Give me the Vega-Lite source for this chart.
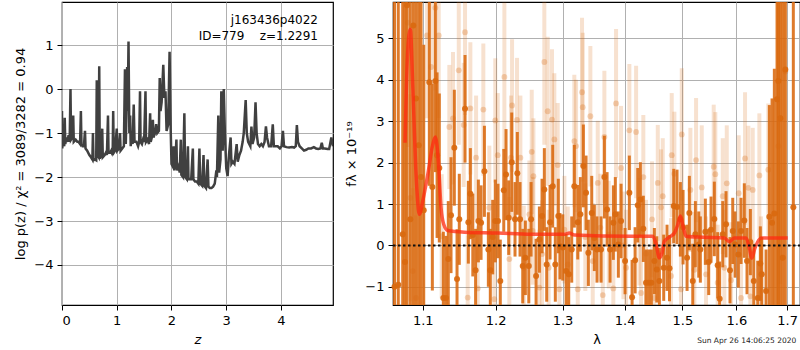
{
  "$schema": "https://vega.github.io/schema/vega-lite/v6.json",
  "padding": {"left": 14, "top": 1, "right": 0, "bottom": 0},
  "spacing": 11,
  "config": {
    "font": "DejaVu Sans",
    "view": {"stroke": "black", "strokeWidth": 1.2},
    "axis": {"grid": true, "gridColor": "#b0b0b0", "gridWidth": 1, "domain": false, "tickColor": "black", "tickSize": 5, "labelFontSize": 13, "labelColor": "black", "titleFontSize": 13, "titleColor": "black", "titleFontWeight": "normal", "labelPadding": 4, "titlePadding": 6}
  },
  "datasets": {
    "pz": [
      {"z":0.00,"lp":-0.50},{"z":0.005,"lp":-1.35},{"z":0.02,"lp":-1.1},{"z":0.04,"lp":-1.3},{"z":0.05,"lp":-0.65},{"z":0.06,"lp":-1.25},{"z":0.08,"lp":-1.1},{"z":0.10,"lp":-1.2},{"z":0.12,"lp":-1.05},{"z":0.14,"lp":-1.2},{"z":0.155,"lp":0.0},{"z":0.165,"lp":-1.15},{"z":0.19,"lp":-1.1},{"z":0.205,"lp":-0.6},{"z":0.215,"lp":-1.2},{"z":0.25,"lp":-1.15},{"z":0.28,"lp":-1.2},{"z":0.30,"lp":-1.2},{"z":0.33,"lp":-1.25},{"z":0.345,"lp":-0.5},{"z":0.355,"lp":-1.25},{"z":0.38,"lp":-1.3},{"z":0.40,"lp":-1.3},{"z":0.42,"lp":-0.95},{"z":0.43,"lp":-1.35},{"z":0.46,"lp":-1.4},{"z":0.50,"lp":-1.5},{"z":0.53,"lp":-1.55},{"z":0.555,"lp":-1.6},{"z":0.565,"lp":-1.0},{"z":0.575,"lp":-1.62},{"z":0.60,"lp":-1.6},{"z":0.625,"lp":-1.62},{"z":0.635,"lp":0.2},{"z":0.645,"lp":-1.5},{"z":0.67,"lp":-1.55},{"z":0.68,"lp":0.52},{"z":0.69,"lp":-1.58},{"z":0.72,"lp":-1.5},{"z":0.735,"lp":-0.9},{"z":0.745,"lp":-1.55},{"z":0.78,"lp":-1.5},{"z":0.80,"lp":-1.45},{"z":0.82,"lp":-1.5},{"z":0.84,"lp":-0.6},{"z":0.85,"lp":-1.45},{"z":0.88,"lp":-1.45},{"z":0.90,"lp":-1.4},{"z":0.925,"lp":-1.5},{"z":0.935,"lp":-0.5},{"z":0.945,"lp":-1.45},{"z":0.97,"lp":-1.4},{"z":1.00,"lp":-0.9},{"z":1.01,"lp":-1.4},{"z":1.04,"lp":-1.35},{"z":1.06,"lp":-1.0},{"z":1.07,"lp":-1.4},{"z":1.10,"lp":-1.35},{"z":1.13,"lp":-1.3},{"z":1.15,"lp":0.45},{"z":1.165,"lp":-1.25},{"z":1.18,"lp":-0.4},{"z":1.19,"lp":0.5},{"z":1.20,"lp":-0.5},{"z":1.215,"lp":1.08},{"z":1.23,"lp":-1.0},{"z":1.245,"lp":-0.6},{"z":1.255,"lp":-1.3},{"z":1.27,"lp":-1.0},{"z":1.29,"lp":-1.25},{"z":1.31,"lp":-0.35},{"z":1.325,"lp":-1.2},{"z":1.36,"lp":-1.2},{"z":1.39,"lp":-1.3},{"z":1.41,"lp":-1.2},{"z":1.425,"lp":-0.05},{"z":1.435,"lp":-1.2},{"z":1.46,"lp":-1.25},{"z":1.48,"lp":-1.15},{"z":1.50,"lp":-1.2},{"z":1.525,"lp":-0.05},{"z":1.535,"lp":-1.2},{"z":1.56,"lp":-1.15},{"z":1.59,"lp":-1.25},{"z":1.61,"lp":-0.55},{"z":1.62,"lp":-1.2},{"z":1.64,"lp":-1.1},{"z":1.66,"lp":-0.7},{"z":1.67,"lp":-1.1},{"z":1.70,"lp":-1.0},{"z":1.72,"lp":-0.8},{"z":1.74,"lp":-1.0},{"z":1.77,"lp":-0.95},{"z":1.785,"lp":0.25},{"z":1.80,"lp":-0.5},{"z":1.82,"lp":-0.3},{"z":1.85,"lp":0.55},{"z":1.87,"lp":-0.2},{"z":1.89,"lp":-0.05},{"z":1.91,"lp":-0.95},{"z":1.94,"lp":-0.8},{"z":1.965,"lp":0.85},{"z":1.985,"lp":-0.9},{"z":2.00,"lp":-1.7},{"z":2.02,"lp":-1.75},{"z":2.04,"lp":-1.3},{"z":2.05,"lp":-1.85},{"z":2.07,"lp":-1.6},{"z":2.09,"lp":-1.15},{"z":2.10,"lp":-1.85},{"z":2.13,"lp":-1.75},{"z":2.15,"lp":-1.9},{"z":2.17,"lp":-1.15},{"z":2.18,"lp":-1.95},{"z":2.21,"lp":-2.0},{"z":2.235,"lp":-0.55},{"z":2.25,"lp":-2.0},{"z":2.28,"lp":-2.05},{"z":2.30,"lp":-1.3},{"z":2.31,"lp":-2.05},{"z":2.34,"lp":-2.05},{"z":2.36,"lp":-2.05},{"z":2.39,"lp":-1.35},{"z":2.40,"lp":-2.05},{"z":2.43,"lp":-2.1},{"z":2.46,"lp":-2.1},{"z":2.49,"lp":-2.15},{"z":2.51,"lp":-1.35},{"z":2.525,"lp":-2.15},{"z":2.56,"lp":-2.2},{"z":2.585,"lp":-1.5},{"z":2.60,"lp":-2.2},{"z":2.63,"lp":-2.25},{"z":2.66,"lp":-1.6},{"z":2.675,"lp":-2.22},{"z":2.70,"lp":-2.25},{"z":2.73,"lp":-2.25},{"z":2.76,"lp":-2.22},{"z":2.79,"lp":-2.15},{"z":2.82,"lp":-1.85},{"z":2.83,"lp":-2.0},{"z":2.855,"lp":-0.6},{"z":2.87,"lp":-1.9},{"z":2.895,"lp":-1.6},{"z":2.91,"lp":-0.05},{"z":2.935,"lp":-1.4},{"z":2.955,"lp":0.0},{"z":2.975,"lp":-1.0},{"z":3.00,"lp":-1.8},{"z":3.025,"lp":-1.98},{"z":3.05,"lp":-1.5},{"z":3.08,"lp":-1.1},{"z":3.095,"lp":-1.7},{"z":3.12,"lp":-1.65},{"z":3.15,"lp":-1.7},{"z":3.19,"lp":-1.25},{"z":3.21,"lp":-1.65},{"z":3.24,"lp":-1.5},{"z":3.27,"lp":-1.4},{"z":3.30,"lp":-1.2},{"z":3.32,"lp":-1.0},{"z":3.355,"lp":-0.25},{"z":3.375,"lp":-1.0},{"z":3.40,"lp":-1.2},{"z":3.44,"lp":-1.3},{"z":3.46,"lp":-0.85},{"z":3.48,"lp":-1.25},{"z":3.51,"lp":-1.1},{"z":3.535,"lp":-0.3},{"z":3.555,"lp":-1.0},{"z":3.58,"lp":-1.25},{"z":3.61,"lp":-1.3},{"z":3.64,"lp":-1.25},{"z":3.67,"lp":-1.3},{"z":3.70,"lp":-1.2},{"z":3.725,"lp":-0.85},{"z":3.745,"lp":-1.1},{"z":3.78,"lp":-1.3},{"z":3.82,"lp":-1.3},{"z":3.85,"lp":-0.8},{"z":3.87,"lp":-1.3},{"z":3.90,"lp":-1.3},{"z":3.94,"lp":-1.3},{"z":3.98,"lp":-1.35},{"z":4.01,"lp":-1.3},{"z":4.035,"lp":-0.95},{"z":4.055,"lp":-1.3},{"z":4.10,"lp":-1.32},{"z":4.15,"lp":-1.33},{"z":4.20,"lp":-1.32},{"z":4.24,"lp":-1.33},{"z":4.27,"lp":-1.3},{"z":4.29,"lp":-0.82},{"z":4.31,"lp":-1.2},{"z":4.34,"lp":-1.3},{"z":4.38,"lp":-1.35},{"z":4.42,"lp":-1.4},{"z":4.46,"lp":-1.38},{"z":4.50,"lp":-1.35},{"z":4.55,"lp":-1.35},{"z":4.60,"lp":-1.32},{"z":4.64,"lp":-1.35},{"z":4.68,"lp":-1.36},{"z":4.72,"lp":-1.35},{"z":4.745,"lp":-1.22},{"z":4.765,"lp":-1.35},{"z":4.80,"lp":-1.35},{"z":4.85,"lp":-1.36},{"z":4.88,"lp":-1.36},{"z":4.92,"lp":-1.1},{"z":4.95,"lp":-1.3}
    ],
    "a": [
      {"l":1.0635,"f":-1.0,"e":10},{"l":1.0683,"f":-0.95,"e":10},{"l":1.0740,"f":0.27,"e":10},{"l":1.0769,"f":-0.4,"e":10},{"l":1.0795,"f":5.8,"e":10},{"l":1.0838,"f":0.63,"e":10},{"l":1.0877,"f":5.31,"e":10},{"l":1.0912,"f":3.55,"e":10},{"l":1.0947,"f":2.42,"e":6},{"l":1.0978,"f":1.65,"e":5},{"l":1.1013,"f":0.85,"e":4},{"l":1.1087,"f":3.94,"e":2.5},{"l":1.1127,"f":1.41,"e":2.5},{"l":1.1167,"f":3.97,"e":2.2},{"l":1.1190,"f":2.18,"e":2.0},{"l":1.1220,"f":1.87,"e":1.8},{"l":1.1274,"f":-1.27,"e":1.6},{"l":1.1310,"f":-1.27,"e":1.5},{"l":1.1341,"f":-0.33,"e":1.4},{"l":1.1378,"f":0.73,"e":1.4},{"l":1.1423,"f":2.36,"e":1.4},{"l":1.1460,"f":-0.81,"e":1.2},{"l":1.1491,"f":0.63,"e":1.1},{"l":1.1570,"f":3.3,"e":1.3},{"l":1.1616,"f":0.56,"e":1.0},{"l":1.1644,"f":1.25,"e":1.1},{"l":1.1678,"f":0.25,"e":1.0},{"l":1.1717,"f":-0.6,"e":1.0},{"l":1.1756,"f":0.59,"e":1.0},{"l":1.1794,"f":0.55,"e":0.9},{"l":1.1841,"f":1.79,"e":1.1},{"l":1.1897,"f":-0.1,"e":0.9},{"l":1.1925,"f":-0.6,"e":1.0},{"l":1.1959,"f":0.2,"e":0.9},{"l":1.1996,"f":0.59,"e":1.0},{"l":1.2035,"f":0.59,"e":0.9},{"l":1.2068,"f":-0.86,"e":1.0},{"l":1.2118,"f":1.33,"e":1.0},{"l":1.2151,"f":1.71,"e":1.1},{"l":1.2190,"f":0.67,"e":0.9},{"l":1.2234,"f":2.01,"e":1.2},{"l":1.2282,"f":0.63,"e":0.9},{"l":1.2316,"f":1.74,"e":1.0},{"l":1.2356,"f":0.63,"e":0.9},{"l":1.2396,"f":-0.5,"e":0.9},{"l":1.2435,"f":-0.3,"e":0.9},{"l":1.2486,"f":-0.5,"e":0.9},{"l":1.2520,"f":0.63,"e":0.9},{"l":1.2595,"f":-0.74,"e":0.9},{"l":1.2645,"f":0.14,"e":0.8},{"l":1.2685,"f":0.71,"e":0.9},{"l":1.2720,"f":1.35,"e":1.0},{"l":1.2756,"f":-0.46,"e":0.9},{"l":1.2807,"f":0.56,"e":0.9},{"l":1.2848,"f":1.43,"e":1.0},{"l":1.2888,"f":-0.46,"e":0.9},{"l":1.2934,"f":0.71,"e":0.9},{"l":1.2960,"f":-0.02,"e":0.8},{"l":1.3003,"f":-0.05,"e":0.8},{"l":1.3055,"f":-0.62,"e":0.9},{"l":1.3096,"f":-0.7,"e":0.9},{"l":1.3143,"f":-0.1,"e":0.8},{"l":1.3184,"f":1.43,"e":1.0},{"l":1.3238,"f":0.56,"e":0.9},{"l":1.3279,"f":0.75,"e":0.9},{"l":1.3327,"f":1.92,"e":1.0},{"l":1.3370,"f":1.27,"e":0.9},{"l":1.3407,"f":-0.18,"e":0.8},{"l":1.3461,"f":0.78,"e":0.9},{"l":1.3503,"f":0.18,"e":0.8},{"l":1.3546,"f":-0.1,"e":0.8},{"l":1.3612,"f":-0.1,"e":0.8},{"l":1.3666,"f":1.65,"e":1.0},{"l":1.3710,"f":0.87,"e":0.9},{"l":1.3759,"f":-0.1,"e":0.8},{"l":1.3813,"f":0.55,"e":0.9},{"l":1.3846,"f":0.75,"e":0.9},{"l":1.3896,"f":0.02,"e":0.8},{"l":1.3941,"f":0.59,"e":0.9},{"l":1.4008,"f":-0.38,"e":0.8},{"l":1.4080,"f":1.27,"e":0.9},{"l":1.4126,"f":-1.25,"e":0.9},{"l":1.4177,"f":-0.36,"e":0.8},{"l":1.4222,"f":0.97,"e":0.9},{"l":1.4266,"f":1.11,"e":0.9},{"l":1.4317,"f":0.4,"e":0.8},{"l":1.4363,"f":-0.9,"e":0.8},{"l":1.4409,"f":-0.9,"e":0.8},{"l":1.4455,"f":-0.9,"e":0.8},{"l":1.4507,"f":-0.38,"e":0.8},{"l":1.4549,"f":-0.58,"e":0.8},{"l":1.4594,"f":-0.86,"e":0.8},{"l":1.4670,"f":-0.54,"e":0.8},{"l":1.4728,"f":-0.3,"e":0.8},{"l":1.4772,"f":-0.55,"e":0.8},{"l":1.4847,"f":0.95,"e":0.9},{"l":1.4905,"f":0.93,"e":0.9},{"l":1.4965,"f":0.63,"e":0.9},{"l":1.5013,"f":0.44,"e":0.9},{"l":1.5085,"f":-0.3,"e":0.8},{"l":1.5126,"f":0.78,"e":0.9},{"l":1.5188,"f":-0.86,"e":0.9},{"l":1.5235,"f":0.27,"e":0.8},{"l":1.5297,"f":0.02,"e":0.8},{"l":1.5326,"f":-0.1,"e":0.8},{"l":1.5418,"f":0.33,"e":0.8},{"l":1.5480,"f":-0.4,"e":0.8},{"l":1.5523,"f":0.38,"e":0.8},{"l":1.5584,"f":0.64,"e":0.9},{"l":1.5647,"f":-0.48,"e":0.8},{"l":1.5684,"f":-1.29,"e":0.9},{"l":1.5742,"f":0.27,"e":0.8},{"l":1.5804,"f":0.51,"e":0.8},{"l":1.5879,"f":-0.6,"e":0.8},{"l":1.5931,"f":0.35,"e":0.8},{"l":1.5975,"f":0.02,"e":0.8},{"l":1.6038,"f":-0.22,"e":0.8},{"l":1.6090,"f":0.35,"e":0.8},{"l":1.6153,"f":0.6,"e":0.9},{"l":1.6205,"f":-0.38,"e":0.8},{"l":1.6270,"f":0.08,"e":0.8},{"l":1.6336,"f":-0.86,"e":0.9},{"l":1.6414,"f":-1.27,"e":0.9},{"l":1.6465,"f":-0.44,"e":0.9},{"l":1.6493,"f":-0.7,"e":0.9},{"l":1.6578,"f":-1.1,"e":1.0},{"l":1.6643,"f":0.69,"e":2.7},{"l":1.6697,"f":0.55,"e":3.0},{"l":1.6743,"f":0.77,"e":3.5},{"l":1.6797,"f":3.53,"e":10},{"l":1.6823,"f":3.97,"e":10},{"l":1.6863,"f":3.07,"e":10},{"l":1.6911,"f":-0.3,"e":10},{"l":1.6964,"f":4.25,"e":10},{"l":1.7127,"f":0.92,"e":10}
    ],
    "b": [
      {"l":1.0804,"f":5.38,"e":3},{"l":1.0838,"f":1.15,"e":2.5},{"l":1.0869,"f":-0.62,"e":2},{"l":1.0912,"f":-1.27,"e":2},{"l":1.1057,"f":5.07,"e":2},{"l":1.1110,"f":4.31,"e":2},{"l":1.1167,"f":5.74,"e":2},{"l":1.1212,"f":5.07,"e":2},{"l":1.1252,"f":0.22,"e":1.5},{"l":1.1355,"f":2.86,"e":1.5},{"l":1.1405,"f":3.07,"e":1.6},{"l":1.1484,"f":4.23,"e":1.8},{"l":1.1552,"f":2.91,"e":1.5},{"l":1.1570,"f":5.15,"e":2},{"l":1.1607,"f":-1.26,"e":1.5},{"l":1.1644,"f":3.31,"e":1.6},{"l":1.1724,"f":2.12,"e":1.5},{"l":1.1747,"f":-1.04,"e":1.5},{"l":1.1826,"f":3.28,"e":1.6},{"l":1.1911,"f":0.91,"e":1.5},{"l":1.1982,"f":-1.3,"e":1.5},{"l":1.1996,"f":3.02,"e":1.5},{"l":1.2031,"f":2.18,"e":1.5},{"l":1.2127,"f":4.07,"e":1.8},{"l":1.2199,"f":-0.33,"e":1.5},{"l":1.2224,"f":2.12,"e":1.5},{"l":1.2239,"f":3.38,"e":1.6},{"l":1.2312,"f":3.03,"e":1.5},{"l":1.2361,"f":2.12,"e":1.5},{"l":1.2411,"f":-0.54,"e":1.5},{"l":1.2495,"f":0.75,"e":1.3},{"l":1.2530,"f":2.26,"e":1.5},{"l":1.2545,"f":0.35,"e":1.3},{"l":1.2555,"f":1.67,"e":1.4},{"l":1.2645,"f":-1.02,"e":1.4},{"l":1.2685,"f":-0.21,"e":1.3},{"l":1.2720,"f":4.43,"e":2},{"l":1.2771,"f":3.24,"e":1.8},{"l":1.2786,"f":-0.54,"e":1.4},{"l":1.2837,"f":3.04,"e":1.7},{"l":1.2873,"f":2.56,"e":1.6},{"l":1.2925,"f":1.94,"e":1.5},{"l":1.2951,"f":-1.06,"e":1.4},{"l":1.3028,"f":0.38,"e":1.3},{"l":1.3081,"f":-0.46,"e":1.4},{"l":1.3184,"f":2.52,"e":1.6},{"l":1.3211,"f":2.4,"e":1.6},{"l":1.3238,"f":-1.06,"e":1.4},{"l":1.3306,"f":3.7,"e":1.8},{"l":1.3317,"f":3.34,"e":1.8},{"l":1.3358,"f":0.2,"e":1.3},{"l":1.3439,"f":3.12,"e":1.7},{"l":1.3477,"f":-0.38,"e":1.4},{"l":1.3558,"f":1.51,"e":1.5},{"l":1.3601,"f":0.43,"e":1.3},{"l":1.3640,"f":-1.2,"e":1.4},{"l":1.3666,"f":2.62,"e":1.6},{"l":1.3738,"f":0.26,"e":1.3},{"l":1.3813,"f":-1.04,"e":1.4},{"l":1.3858,"f":3.43,"e":1.8},{"l":1.3941,"f":1.87,"e":1.5},{"l":1.3980,"f":0.0,"e":1.3},{"l":1.4025,"f":-0.54,"e":1.4},{"l":1.4080,"f":2.78,"e":1.6},{"l":1.4194,"f":2.74,"e":1.6},{"l":1.4250,"f":0.33,"e":1.3},{"l":1.4278,"f":-1.15,"e":1.4},{"l":1.4317,"f":1.65,"e":1.5},{"l":1.4363,"f":-0.2,"e":1.3},{"l":1.4467,"f":0.63,"e":1.4},{"l":1.4507,"f":-1.27,"e":1.4},{"l":1.4566,"f":1.51,"e":1.4},{"l":1.4623,"f":0.92,"e":1.4},{"l":1.4653,"f":1.19,"e":1.4},{"l":1.4799,"f":-0.74,"e":1.4},{"l":1.4811,"f":2.18,"e":1.5},{"l":1.4858,"f":1.73,"e":1.5},{"l":1.4977,"f":-1.06,"e":1.4},{"l":1.4990,"f":2.68,"e":1.6},{"l":1.5145,"f":1.34,"e":1.5},{"l":1.5217,"f":-0.59,"e":1.4},{"l":1.5248,"f":2.06,"e":1.5},{"l":1.5352,"f":1.4,"e":1.5},{"l":1.5431,"f":-0.7,"e":1.4},{"l":1.5573,"f":1.9,"e":1.5},{"l":1.5603,"f":1.72,"e":1.5},{"l":1.5647,"f":-0.9,"e":1.4},{"l":1.5742,"f":1.19,"e":1.4},{"l":1.5772,"f":-0.54,"e":1.4},{"l":1.5818,"f":1.5,"e":1.4},{"l":1.5899,"f":-0.84,"e":1.4},{"l":1.6045,"f":1.26,"e":1.4},{"l":1.6090,"f":-1.27,"e":1.4},{"l":1.6167,"f":2.1,"e":1.6},{"l":1.6231,"f":1.39,"e":1.5},{"l":1.6270,"f":-1.23,"e":1.4},{"l":1.6316,"f":1.34,"e":1.5},{"l":1.6446,"f":1.69,"e":1.5},{"l":1.6479,"f":-0.7,"e":1.4},{"l":1.6623,"f":1.83,"e":1.6},{"l":1.6823,"f":2.4,"e":4},{"l":1.6863,"f":3.07,"e":4},{"l":1.6964,"f":4.2,"e":4}
    ],
    "m": [
      {"l":1.0770,"f":2.48},{"l":1.0804,"f":4.69},{"l":1.0838,"f":5.22},{"l":1.0869,"f":3.89},{"l":1.0913,"f":1.71},{"l":1.0956,"f":0.75},{"l":1.1000,"f":1.07},{"l":1.1066,"f":1.71},{"l":1.1133,"f":2.44},{"l":1.1167,"f":2.62},{"l":1.1207,"f":2.04},{"l":1.1243,"f":0.91},{"l":1.1279,"f":0.51},{"l":1.1333,"f":0.36},{"l":1.1561,"f":0.32},{"l":1.2031,"f":0.30},{"l":1.2520,"f":0.27},{"l":1.3028,"f":0.27},{"l":1.3106,"f":0.30},{"l":1.3184,"f":0.25},{"l":1.4109,"f":0.22},{"l":1.4479,"f":0.22},{"l":1.4537,"f":0.03},{"l":1.4594,"f":-0.30},{"l":1.4641,"f":-0.18},{"l":1.4681,"f":0.10},{"l":1.4769,"f":0.20},{"l":1.4858,"f":0.30},{"l":1.4918,"f":0.50},{"l":1.4965,"f":0.71},{"l":1.5018,"f":0.43},{"l":1.5067,"f":0.22},{"l":1.5279,"f":0.20},{"l":1.5772,"f":0.18},{"l":1.5867,"f":0.09},{"l":1.5962,"f":0.18},{"l":1.6186,"f":0.18},{"l":1.6250,"f":-0.06},{"l":1.6297,"f":-0.31},{"l":1.6361,"f":-0.06},{"l":1.6479,"f":0.18},{"l":1.7013,"f":0.18}
    ],
    "zero": [{"l":1.0616,"f":0},{"l":1.7264,"f":0}],
    "ann": [{"z":4.676,"lp":1.57,"t":"j163436p4022"},{"z":4.676,"lp":1.2,"t":"ID=779\u00a0\u00a0\u00a0\u00a0z=1.2291"}],
    "stamp": [{"l":1.62,"f":-2.3,"t":"Sun Apr 26 14:06:25 2020"}]
  },
  "hconcat": [
    {
      "width": 271,
      "height": 303,
      "encoding": {
        "x": {"field": "z", "type": "quantitative", "scale": {"domain": [0, 4.95], "nice": false, "zero": false}, "axis": {"values": [0, 1, 2, 3, 4], "title": "z", "titleFontStyle": "italic"}},
        "y": {"field": "lp", "type": "quantitative", "scale": {"domain": [-4.91, 1.98], "nice": false, "zero": false}, "axis": {"values": [-4, -3, -2, -1, 0, 1], "title": "log p(z) / χ² = 3089/3282 = 0.94"}}
      },
      "layer": [
        {"data": {"name": "pz"}, "mark": {"type": "line", "color": "#404040", "strokeWidth": 2.5, "clip": true}},
        {"data": {"name": "ann"}, "mark": {"type": "text", "align": "right", "baseline": "middle", "fontSize": 12, "color": "black"}, "encoding": {"text": {"field": "t"}}}
      ]
    },
    {
      "width": 407,
      "height": 303,
      "encoding": {
        "x": {"field": "l", "type": "quantitative", "scale": {"type": "log", "domain": [1.0616, 1.7264], "nice": false, "zero": false}, "axis": {"values": [1.1, 1.2, 1.3, 1.4, 1.5, 1.6, 1.7], "format": ".1f", "title": "λ"}},
        "y": {"field": "f", "type": "quantitative", "scale": {"domain": [-1.44, 5.88], "nice": false, "zero": false}, "axis": {"values": [-1, 0, 1, 2, 3, 4, 5], "title": "fλ × 10⁻¹⁹"}}
      },
      "layer": [
        {"data": {"name": "b"}, "mark": {"type": "errorbar", "color": "#d9690f", "opacity": 0.2, "thickness": 4, "clip": true}, "encoding": {"yError": {"field": "e"}}},
        {"data": {"name": "b"}, "mark": {"type": "circle", "color": "#d9690f", "opacity": 0.28, "size": 34}},
        {"data": {"name": "a"}, "mark": {"type": "errorbar", "color": "#d9690f", "opacity": 0.88, "thickness": 3, "clip": true}, "encoding": {"yError": {"field": "e"}}},
        {"data": {"name": "a"}, "mark": {"type": "circle", "color": "#d9690f", "opacity": 0.92, "size": 36}},
        {"data": {"name": "m"}, "mark": {"type": "line", "color": "#ff2a10", "opacity": 0.75, "strokeWidth": 3.5, "interpolate": "monotone"}},
        {"data": {"name": "zero"}, "mark": {"type": "line", "color": "#111111", "strokeWidth": 2, "strokeDash": [2.5, 2.5]}},
        {"data": {"name": "stamp"}, "mark": {"type": "text", "align": "center", "baseline": "middle", "fontSize": 7.5, "color": "#222222"}, "encoding": {"text": {"field": "t"}}}
      ]
    }
  ]
}
